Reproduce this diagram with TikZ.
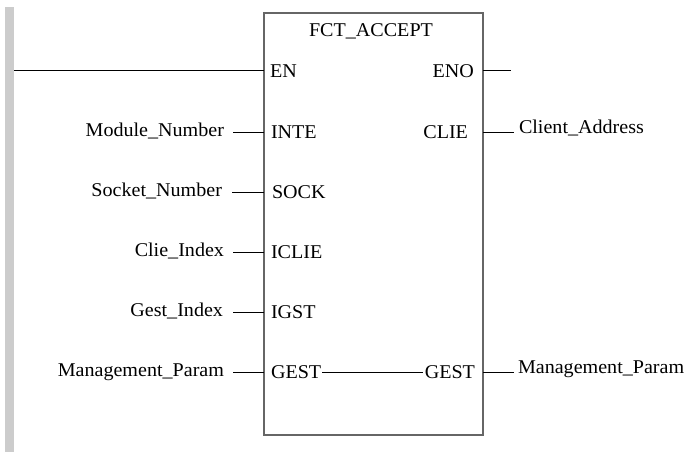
\documentclass[tikz,border=0pt]{standalone}
\usepackage{fontspec}
\setmainfont[FakeStretch=1.03]{Liberation Serif}
\begin{document}
\begin{tikzpicture}[x=1pt,y=-1pt,
  every node/.style={inner sep=0pt,outer sep=0pt,font=\fontsize{19.5}{21}\selectfont},
  wire/.style={line width=1pt,black},
  fblock/.style={draw=black!60,line width=1.3pt,fill=white,minimum width=219pt,minimum height=422pt},
  pinL/.style={anchor=base west},
  pinR/.style={anchor=base east},
  varL/.style={anchor=base east},
  varR/.style={anchor=base west}]
\useasboundingbox (0,0) rectangle (686,452);
% power rail
\fill[black!20] (5,7) rectangle (14,452);
\coordinate (rail) at (14,71);
% function block
\node[fblock] (blk) at (373.5,224) {};
\node[anchor=base] (title) at (371,37) {FCT\_ACCEPT};
% inputs
\node[pinL] (en) at (270,77.5) {EN};
\node[pinL] (inte) at (271,138.5) {INTE};
\node[pinL] (sock) at (272,198.5) {SOCK};
\node[pinL] (iclie) at (271,258.5) {ICLIE};
\node[pinL] (igst) at (271,318.5) {IGST};
\node[pinL] (gestin) at (271,378.5) {GEST};
% outputs
\node[pinR] (eno) at (474,77.5) {ENO};
\node[pinR] (clie) at (468,138.5) {CLIE};
\node[pinR] (gestout) at (475,378.5) {GEST};
% variables
\node[varL] (vmod) at (224,136) {Module\_Number};
\node[varL] (vsock) at (222,196) {Socket\_Number};
\node[varL] (vclie) at (224,256) {Clie\_Index};
\node[varL] (vgst) at (223,316) {Gest\_Index};
\node[varL] (vgest) at (224,376) {Management\_Param};
\node[varR] (vaddr) at (519,133) {Client\_Address};
\node[varR] (vgestr) at (518,373) {Management\_Param};
% wire ends
\coordinate (aMod) at (233,132);
\coordinate (aSock) at (232,192);
\coordinate (aClie) at (233,252);
\coordinate (aGst) at (233,312);
\coordinate (aGest) at (233,372);
\coordinate (eEno) at (511,71);
\coordinate (eAddr) at (514,132);
\coordinate (eGest) at (514,372);
% connections
\draw[wire] (rail) -- (rail -| blk.west);
\draw[wire] (aMod) -- (aMod -| blk.west);
\draw[wire] (aSock) -- (aSock -| blk.west);
\draw[wire] (aClie) -- (aClie -| blk.west);
\draw[wire] (aGst) -- (aGst -| blk.west);
\draw[wire] (aGest) -- (aGest -| blk.west);
\draw[wire] (eEno -| blk.east) -- (eEno);
\draw[wire] (eAddr -| blk.east) -- (eAddr);
\draw[wire] (eGest -| blk.east) -- (eGest);
\draw[wire] ([xshift=1pt]gestin.east |- aGest) -- ([xshift=-2pt]gestout.west |- aGest);
\end{tikzpicture}
\end{document}
